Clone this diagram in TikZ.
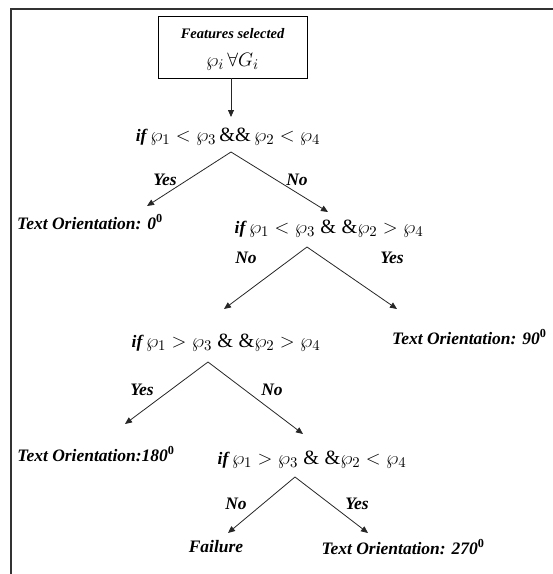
\documentclass[tikz,border=0pt]{standalone}
\usepackage{graphicx}
\usepackage{fontspec}
\setmainfont{Liberation Serif}
\usetikzlibrary{arrows.meta}
\newcommand{\myformula}[1]{\scalebox{1.35}{$#1$}}
\begin{document}
\begin{tikzpicture}[x=1pt,y=-1pt,
  lbl/.style={inner sep=0pt,font=\fontsize{17.5}{20}\selectfont\bfseries\itshape},
  cond/.style={inner sep=0pt,font=\fontsize{15}{18}\selectfont},
  yn/.style={inner sep=0pt,font=\fontsize{17.5}{20}\selectfont\bfseries\itshape},
  branch/.style={draw=black!85,line width=0.8pt,-{Triangle[length=7pt,width=6pt]}}]
\useasboundingbox (0,0) rectangle (553,574);
\draw[line width=1.4pt,black!80] (11,574) -- (11,9) -- (553,9);
\node[draw,line width=0.8pt,minimum width=149pt,minimum height=62pt,inner sep=0pt] (box) at (232.5,47) {};
\node[inner sep=0pt,font=\fontsize{14.5}{16}\selectfont\bfseries\itshape] (feat) at (232.5,34) {Features selected};
\node[inner sep=0pt,font=\fontsize{15}{18}\selectfont] (phi) at (232.5,62) {\myformula{\wp_i\,\forall G_i}};
\node[cond] (c1) at (228,137) {{\fontsize{17.5}{20}\selectfont\bfseries\itshape if} \myformula{\wp_1<\wp_3\,\&\&\,\wp_2<\wp_4}};
\coordinate (top1) at (231,117);
\draw[branch] (box.south -| top1) -- (top1);
\coordinate (p1) at (231,152);
\coordinate (a1L) at (147,206);
\coordinate (a1R) at (328,212);
\draw[branch] (p1) -- (a1L);
\draw[branch] (p1) -- (a1R);
\node[yn] (y1) at (165,180) {Yes};
\node[yn] (n1) at (297,180) {No};
\node[lbl] (t0) at (90,222) {Text Orientation: 0$^{\mathbf{0}}$};
\node[cond] (c2) at (329,229) {{\fontsize{17.5}{20}\selectfont\bfseries\itshape if} \myformula{\wp_1<\wp_3\;\&\;\&\wp_2>\wp_4}};
\coordinate (p2) at (307,247);
\coordinate (a2L) at (224,309);
\coordinate (a2R) at (397,309);
\draw[branch] (p2) -- (a2L);
\draw[branch] (p2) -- (a2R);
\node[yn] (n2) at (246,258) {No};
\node[yn] (y2) at (392,258) {Yes};
\node[lbl,anchor=west] (t90) at (392,337) {Text Orientation: 90$^{\mathbf{0}}$};
\node[cond] (c3) at (226,343) {{\fontsize{17.5}{20}\selectfont\bfseries\itshape if} \myformula{\wp_1>\wp_3\;\&\;\&\wp_2>\wp_4}};
\coordinate (p3) at (208,362);
\coordinate (a3L) at (125,424);
\coordinate (a3R) at (303,434);
\draw[branch] (p3) -- (a3L);
\draw[branch] (p3) -- (a3R);
\node[yn] (y3) at (142,390) {Yes};
\node[yn] (n3) at (272,390) {No};
\node[lbl] (t180) at (96,454) {Text Orientation:180$^{\mathbf{0}}$};
\node[cond] (c4) at (312,460) {{\fontsize{17.5}{20}\selectfont\bfseries\itshape if} \myformula{\wp_1>\wp_3\;\&\;\&\wp_2<\wp_4}};
\coordinate (p4) at (295,477);
\coordinate (a4L) at (228,533);
\coordinate (a4R) at (368,533);
\draw[branch] (p4) -- (a4L);
\draw[branch] (p4) -- (a4R);
\node[yn] (n4) at (236,504) {No};
\node[yn] (y4) at (357,504) {Yes};
\node[lbl] (fail) at (216,547) {Failure};
\node[lbl] (t270) at (403,547) {Text Orientation: 270$^{\mathbf{0}}$};
\end{tikzpicture}
\end{document}
